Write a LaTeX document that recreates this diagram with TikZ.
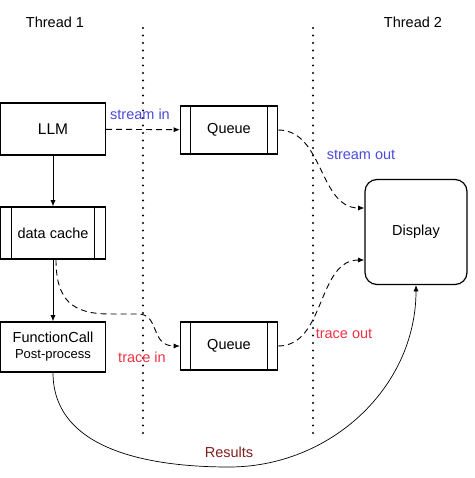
\documentclass[tikz,border=0pt]{standalone}
\usepackage{fontspec}
\setmainfont{Liberation Sans}
\usepackage{xcolor}
\usetikzlibrary{arrows.meta,positioning}
\definecolor{streamblue}{HTML}{4B4BDD}
\definecolor{tracered}{HTML}{EE3344}
\definecolor{resultred}{HTML}{7F1F1F}

\begin{document}
\begin{tikzpicture}[
        x=1pt, y=-1pt,
        every node/.style={font=\fontsize{14.5}{17}\selectfont, align=center},
        block/.style={draw, line width=1.2pt, minimum width=105pt, minimum height=52pt, inner sep=0pt},
        sidebars/.style={path picture={
            \draw[line width=0.9pt] ([xshift=#1]path picture bounding box.north west) -- ([xshift=#1]path picture bounding box.south west);
            \draw[line width=0.9pt] ([xshift=-#1]path picture bounding box.north east) -- ([xshift=-#1]path picture bounding box.south east);}},
        queue/.style={block, minimum width=97pt, minimum height=48pt, sidebars=10pt},
        lane/.style={line width=2.3pt, dash pattern=on 0pt off 7.5pt, line cap=round},
        arrow/.style={-{Latex[length=2.2mm,width=1.8mm]}, line width=0.9pt},
        flow/.style={arrow, dash pattern=on 6pt off 4pt},
        label/.style={font=\fontsize{14.5}{17}\selectfont}
    ]
        \useasboundingbox (0,0) rectangle (474,478);
        % thread lanes
        \node (t1) at (55,22) {Thread 1};
        \node (t2) at (413,22) {Thread 2};
        \draw[lane] (143,28) -- (143,440);
        \draw[lane] (313,28) -- (313,440);
        % blocks
        \node[block, font=\fontsize{15.5}{18}\selectfont] (llm) at (53,129) {LLM};
        \node[block, sidebars=11pt] (cache) at (53,233) {data cache};
        \node[block, minimum height=50pt] (fcall) at (53,347) {FunctionCall\\[-1pt]{\fontsize{13}{15}\selectfont Post-process}};
        \node[queue] (q1) at (229,130) {Queue};
        \node[queue] (q2) at (229,346) {Queue};
        \node[block, rounded corners=12pt, minimum width=102pt, minimum height=105pt] (disp) at (416,232) {Display};
        % connectors
        \draw[arrow] (llm) -- (cache);
        \draw[arrow] (cache) -- (fcall);
        \draw[flow] (llm) -- node[label, text=streamblue, above=6pt, xshift=-3pt] {stream in} (q1);
        \draw[flow] (q1.east) to[out=0, in=180] (disp.west |- 0,208);
        \node[label, text=streamblue] (solabel) at (361,155) {stream out};
        \draw[flow] (cache.south -| 56,0) .. controls (56,300) and (72,314) .. (110,314) -- (138,314) .. controls (160,314) and (150,346) .. (q2.west);
        \node[label, text=tracered] (tilabel) at (142,357) {trace in};
        \draw[flow] (q2.east) to[out=0, in=180] (disp.west |- 0,260);
        \node[label, text=tracered] (tolabel) at (344,334) {trace out};
        \draw[arrow, line width=0.7pt] (fcall.south) to[out=-90, in=180] (229,467) to[out=0, in=-90] (disp.south);
        \node[label, text=resultred] (reslabel) at (229,452) {Results};
    \end{tikzpicture}
\end{document}
